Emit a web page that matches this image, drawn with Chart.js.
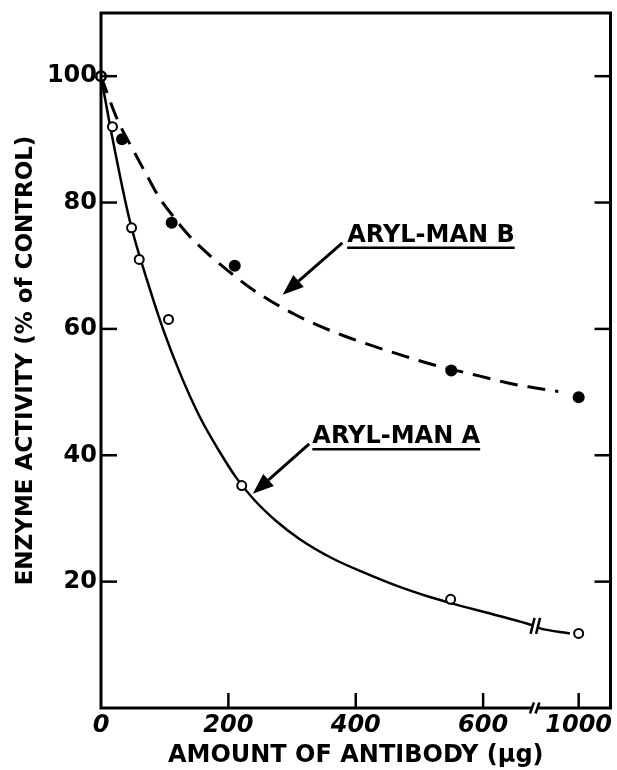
<!DOCTYPE html>
<html>
<head>
<meta charset="utf-8">
<script src="https://cdn.jsdelivr.net/npm/chart.js@4.4.1/dist/chart.umd.min.js"></script>
<style>
  html, body { margin: 0; padding: 0; background: #fff; }
  #wrap { width: 617px; height: 770px; }
</style>
</head>
<body>
<div id="wrap"><canvas id="chart" width="617" height="770"></canvas></div>
<script>
// measured points: antibody dose (µg) vs enzyme activity (% of control)
const doseA = [0, 18, 48, 60, 106, 221, 549, 1000];
const actA  = [100, 92, 76, 71, 61.5, 35.2, 17.2, 11.8];
const doseB = [0, 33, 111, 210, 550, 1000];
const actB  = [100, 90, 76.8, 70, 53.4, 49.2];

// hand drawn curves
const fitDoseA = [0, 17, 45, 77, 98, 124, 155, 186, 212, 240, 275, 311, 363, 416, 468, 515, 549, 624, 677, 724, 937];
const fitActA  = [100, 90.7, 77.2, 66.2, 59.8, 53, 46.1, 40.6, 36.5, 33, 29.6, 26.8, 23.7, 21.3, 19.2, 17.6, 16.6, 14.6, 13.1, 12.6, 11.8];
const fitDoseB = [0, 25, 50, 72, 92, 115, 137, 171, 202, 233, 265, 306, 340, 379, 415, 467, 519, 592, 650, 680, 854];
const fitActB  = [100, 93.3, 88.4, 84.3, 80.7, 77.6, 74.9, 71.6, 69, 66.6, 64.5, 62.2, 60.6, 59, 57.7, 56, 54.4, 52.6, 51.2, 50.7, 50.1];

const xTickVals = [0, 200, 400, 600, 1000];
const yTickVals = [20, 40, 60, 80, 100];

// axis is broken after 680 µg, the rest is squeezed so 1000 lands at 750
const BREAK_AT = 680;
const SQUEEZE = 70 / 320;
function brk(d) { return d <= BREAK_AT ? d : BREAK_AT + (d - BREAK_AT) * SQUEEZE; }

// labels with arrows, in axis units
const notes = [
  { text: 'ARYL-MAN B', at: [386.5, 73.8], from: [379, 73.6], to: [285.3, 65.4] },
  { text: 'ARYL-MAN A', at: [331.8, 41.9], from: [327, 41.8], to: [238.4, 33.9] }
];
const curveBreak = [682, 13.0];

const FONT = '"DejaVu Sans", "Liberation Sans", sans-serif';

function pts(xs, ys) { return xs.map((d, i) => ({ x: brk(d), y: ys[i] })); }

function line(ctx, x1, y1, x2, y2) {
  ctx.beginPath(); ctx.moveTo(x1, y1); ctx.lineTo(x2, y2); ctx.stroke();
}

function slashes(ctx, cx, cy, h, gap) {
  ctx.fillStyle = '#fff';
  ctx.fillRect(cx - gap / 2, cy - 3, gap, 6);
  ctx.lineWidth = 2.5;
  [-gap / 2, gap / 2].forEach(dx => line(ctx, cx + dx - 2, cy + h / 2, cx + dx + 2, cy - h / 2));
}

const decorations = {
  id: 'decorations',
  afterDatasetsDraw(chart) {
    const { ctx, chartArea: a, scales: { x, y } } = chart;
    ctx.save();
    ctx.strokeStyle = '#000';
    ctx.lineCap = 'butt';

    // frame
    ctx.lineWidth = 3;
    ctx.strokeRect(a.left, a.top, a.right - a.left, a.bottom - a.top);

    // inward ticks
    ctx.lineWidth = 2.5;
    yTickVals.forEach(v => {
      const py = y.getPixelForValue(v);
      line(ctx, a.left, py, a.left + 16, py);
      line(ctx, a.right, py, a.right - 16, py);
    });
    xTickVals.slice(1).forEach(v => {
      const px = x.getPixelForValue(brk(v));
      line(ctx, px, a.bottom, px, a.bottom - 15);
    });

    // break marks on axis and on curve A
    slashes(ctx, x.getPixelForValue(BREAK_AT + 1), a.bottom, 11, 5.5);
    slashes(ctx, x.getPixelForValue(curveBreak[0]), y.getPixelForValue(curveBreak[1]), 16, 5.5);

    // annotations
    ctx.fillStyle = '#000';
    ctx.font = 'bold 24px ' + FONT;
    ctx.textBaseline = 'alphabetic';
    notes.forEach(n => {
      const tx = x.getPixelForValue(n.at[0]), ty = y.getPixelForValue(n.at[1]);
      ctx.fillText(n.text, tx, ty);
      const w = ctx.measureText(n.text).width;
      ctx.lineWidth = 2.5;
      line(ctx, tx, ty + 6, tx + w, ty + 6);

      const x1 = x.getPixelForValue(n.from[0]), y1 = y.getPixelForValue(n.from[1]);
      const x2 = x.getPixelForValue(n.to[0]), y2 = y.getPixelForValue(n.to[1]);
      const ang = Math.atan2(y2 - y1, x2 - x1);
      const hl = 21, hw = 8;
      const bx = x2 - hl * Math.cos(ang), by = y2 - hl * Math.sin(ang);
      ctx.lineWidth = 3;
      line(ctx, x1, y1, bx, by);
      ctx.beginPath();
      ctx.moveTo(x2, y2);
      ctx.lineTo(bx + hw * Math.sin(ang), by - hw * Math.cos(ang));
      ctx.lineTo(bx - hw * Math.sin(ang), by + hw * Math.cos(ang));
      ctx.closePath();
      ctx.fill();
    });
    ctx.restore();
  }
};

Chart.defaults.color = '#000';
Chart.defaults.font.family = FONT;

new Chart(document.getElementById('chart'), {
  type: 'scatter',
  data: {
    datasets: [
      {
        label: 'A points', data: pts(doseA, actA),
        pointRadius: 4.5, pointBorderWidth: 2, pointBackgroundColor: '#fff', pointBorderColor: '#000',
        showLine: false, clip: false
      },
      {
        label: 'B points', data: pts(doseB, actB),
        pointRadius: 6, pointBorderWidth: 0, pointBackgroundColor: '#000', pointBorderColor: '#000',
        showLine: false, clip: false
      },
      {
        label: 'ARYL-MAN A', data: pts(fitDoseA, fitActA),
        showLine: true, pointRadius: 0, borderColor: '#000', borderWidth: 2.5,
        cubicInterpolationMode: 'monotone', clip: false
      },
      {
        label: 'ARYL-MAN B', data: pts(fitDoseB, fitActB),
        showLine: true, pointRadius: 0, borderColor: '#000', borderWidth: 3,
        borderDash: [18, 10], cubicInterpolationMode: 'monotone', clip: false
      }
    ]
  },
  options: {
    responsive: false,
    devicePixelRatio: 1,
    animation: false,
    layout: { padding: { top: 13, right: 4, left: 0, bottom: 0 } },
    plugins: { legend: { display: false }, tooltip: { enabled: false } },
    scales: {
      x: {
        type: 'linear', min: 0, max: 800,
        grid: { display: false, drawTicks: false },
        border: { display: false },
        afterFit: s => { s.height = 62; s.paddingLeft = 0; s.paddingRight = 0; },
        afterBuildTicks: s => { s.ticks = xTickVals.map(v => ({ value: brk(v) })); },
        ticks: {
          padding: 3, maxRotation: 0, autoSkip: false,
          font: { size: 24, weight: 'bold', style: 'italic' },
          callback: (v, i) => String(xTickVals[i])
        },
        title: {
          display: true, text: 'AMOUNT OF ANTIBODY (µg)',
          font: { size: 24, weight: 'bold' }, padding: { top: 0, bottom: 0 }
        }
      },
      y: {
        type: 'linear', min: 0, max: 110,
        grid: { display: false, drawTicks: false },
        border: { display: false },
        afterFit: s => { s.width = 101; s.paddingTop = 0; s.paddingBottom = 0; },
        afterBuildTicks: s => { s.ticks = yTickVals.map(v => ({ value: v })); },
        ticks: {
          padding: 4, autoSkip: false,
          font: { size: 24, weight: 'bold' },
          callback: v => String(v)
        },
        title: {
          display: true, text: 'ENZYME ACTIVITY (% of CONTROL)',
          font: { size: 23, weight: 'bold' }, padding: { top: 12, bottom: 0 }
        }
      }
    }
  },
  plugins: [decorations]
});
</script>
</body>
</html>
